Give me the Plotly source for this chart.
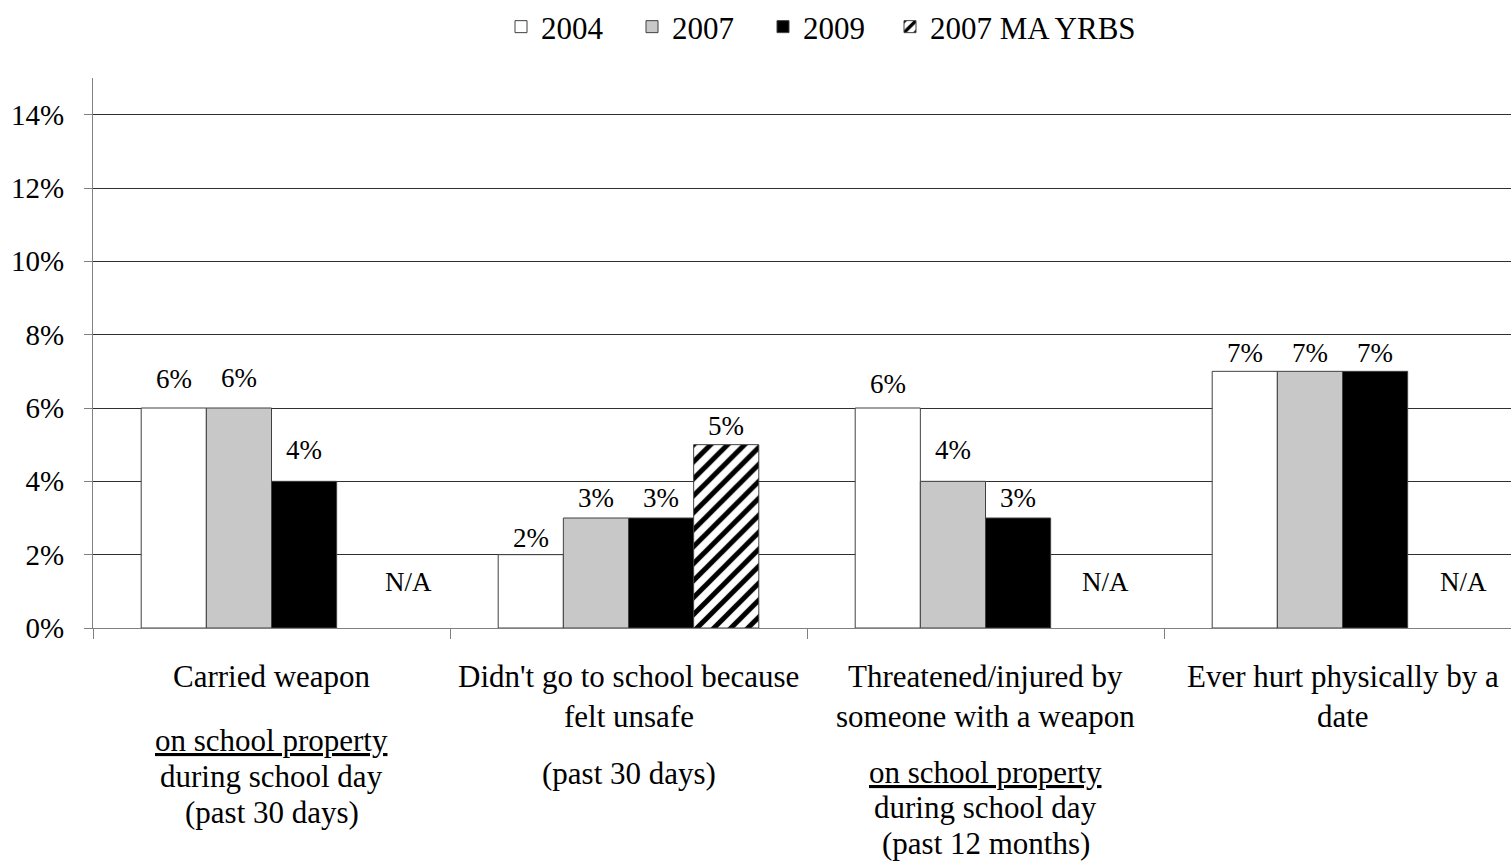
import plotly.graph_objects as go

# ---- data ----
series_names = ["2004", "2007", "2009", "2007 MA YRBS"]
v2004 = [0.06, 0.02, 0.06, 0.07]
v2007 = [0.06, 0.03, 0.04, 0.07]
v2009 = [0.04, 0.03, 0.03, 0.07]
vMA = [None, 0.05, None, None]
value_labels_2004 = ["6%", "2%", "6%", "7%"]
value_labels_2007 = ["6%", "3%", "4%", "7%"]
value_labels_2009 = ["4%", "3%", "3%", "7%"]
value_labels_MA = [None, "5%", None, None]
na_text = "N/A"

cat_main = [
    ["Carried weapon"],
    ["Didn't go to school because", "felt unsafe"],
    ["Threatened/injured by", "someone with a weapon"],
    ["Ever hurt physically by a", "date"],
]
cat_sub = [
    ["<u>on school property</u>", "during school day", "(past 30 days)"],
    ["(past 30 days)"],
    ["<u>on school property</u>", "during school day", "(past 12 months)"],
    [],
]
y_ticks = [0, 0.02, 0.04, 0.06, 0.08, 0.10, 0.12, 0.14]

# ---- style / layout params ----
FONT = "Liberation Serif"
OFF = 0                      # body margin removed by post_script
PAGE_W, PAGE_H = 1511, 862
W, H = PAGE_W - OFF, PAGE_H - OFF
PLOT_LEFT, PLOT_TOP, PLOT_BOTTOM = 93, 78, 628   # page pixels
ML, MT = PLOT_LEFT - OFF, PLOT_TOP - OFF
MB = H - (PLOT_BOTTOM - OFF)
PH = PLOT_BOTTOM - PLOT_TOP
PW = W - ML
UNIT = 357.0
BARGAP = 0.27
x_pos = [0, 1, 2, 3]
colors = ["white", "#C8C8C8", "black", "white"]
outline = "#404040"
# per-label vertical lift (px) of value labels above the bar tops
lift = [
    [29, 17, 24, 18],
    [30, 20, 31, 18],
    [31, 20, 20, 18],
    [None, 19, None, None],
]
na_dx = [0.385, None, 0.335, 0.34]
main_y0 = 676
main_step = 40
sub_y0 = [740, 773, 772, None]
sub_step = 36
legend_ids = ["legend", "legend", "legend", "legend2"]

def py(ypix):
    return (PLOT_BOTTOM - ypix) / PH

def px(xpix):
    return (xpix - PLOT_LEFT) / PW

fig = go.Figure()
all_vals = [v2004, v2007, v2009, vMA]
all_lbls = [value_labels_2004, value_labels_2007, value_labels_2009, value_labels_MA]
for k, (name, vals) in enumerate(zip(series_names, all_vals)):
    marker = dict(color=colors[k], line=dict(color=outline, width=1))
    if k == 3:
        marker["pattern"] = dict(shape="/", fgcolor="black", bgcolor="white",
                                 size=12, solidity=0.42, fillmode="replace")
    fig.add_trace(go.Bar(x=x_pos, y=vals, name=name, marker=marker,
                         legend=legend_ids[k], hoverinfo="skip"))

bw = (1 - BARGAP) / 4
annotations = []
for k in range(4):
    for i in range(4):
        lbl = all_lbls[k][i]
        if lbl is None:
            continue
        annotations.append(dict(
            x=x_pos[i] + (k - 1.5) * bw, y=all_vals[k][i], xref="x", yref="y",
            text=lbl, showarrow=False, yanchor="middle", yshift=lift[k][i],
            font=dict(family=FONT, size=27, color="black")))

for i in range(4):
    if vMA[i] is None:
        annotations.append(dict(
            x=x_pos[i] + na_dx[i], y=0.0125, xref="x", yref="y",
            text=na_text, showarrow=False, yanchor="middle",
            font=dict(family=FONT, size=27, color="black")))

for i in range(4):
    for j, line in enumerate(cat_main[i]):
        annotations.append(dict(
            x=x_pos[i], y=py(main_y0 + j * main_step), xref="x", yref="paper",
            text=line, showarrow=False, yanchor="middle",
            font=dict(family=FONT, size=31, color="black")))
    for j, line in enumerate(cat_sub[i]):
        annotations.append(dict(
            x=x_pos[i], y=py(sub_y0[i] + j * sub_step), xref="x", yref="paper",
            text=line, showarrow=False, yanchor="middle",
            font=dict(family=FONT, size=31, color="black")))

x_end = -0.5 + PW / UNIT
legend_font = dict(family=FONT, size=31, color="black")

fig.update_layout(
    width=W, height=H, autosize=False,
    margin=dict(l=ML, r=0, t=MT, b=MB, pad=0, autoexpand=False),
    paper_bgcolor="white", plot_bgcolor="white",
    barmode="group", bargap=BARGAP, bargroupgap=0,
    font=dict(family=FONT, color="black"),
    showlegend=True,
    legend=dict(orientation="h", x=px(501), xanchor="left",
                y=py(0), yanchor="top", font=legend_font,
                entrywidth=86, entrywidthmode="pixels",
                bgcolor="rgba(0,0,0,0)", traceorder="normal"),
    legend2=dict(orientation="h", x=px(890), xanchor="left",
                 y=py(0), yanchor="top", font=legend_font,
                 bgcolor="rgba(0,0,0,0)"),
    annotations=annotations,
    xaxis=dict(range=[-0.5, x_end], tickvals=[-0.5, 0.5, 1.5, 2.5],
               showticklabels=False, ticks="outside", ticklen=10,
               tickcolor="#808080", showgrid=False, zeroline=False,
               showline=True, linecolor="#808080", linewidth=1,
               fixedrange=True),
    yaxis=dict(range=[0, 0.15], tickvals=y_ticks, tickformat=".0%",
               ticks="outside", ticklen=8, tickcolor="#808080",
               ticklabelstandoff=14,
               tickfont=dict(family=FONT, size=29, color="black"),
               showgrid=True, gridcolor="#303030", gridwidth=1,
               zeroline=False, showline=True, linecolor="#808080",
               linewidth=1, fixedrange=True),
)

fig.write_html("out.html", config={"displayModeBar": False},
               post_script="document.body.style.margin='0';"
                           "document.body.style.overflow='hidden';")
